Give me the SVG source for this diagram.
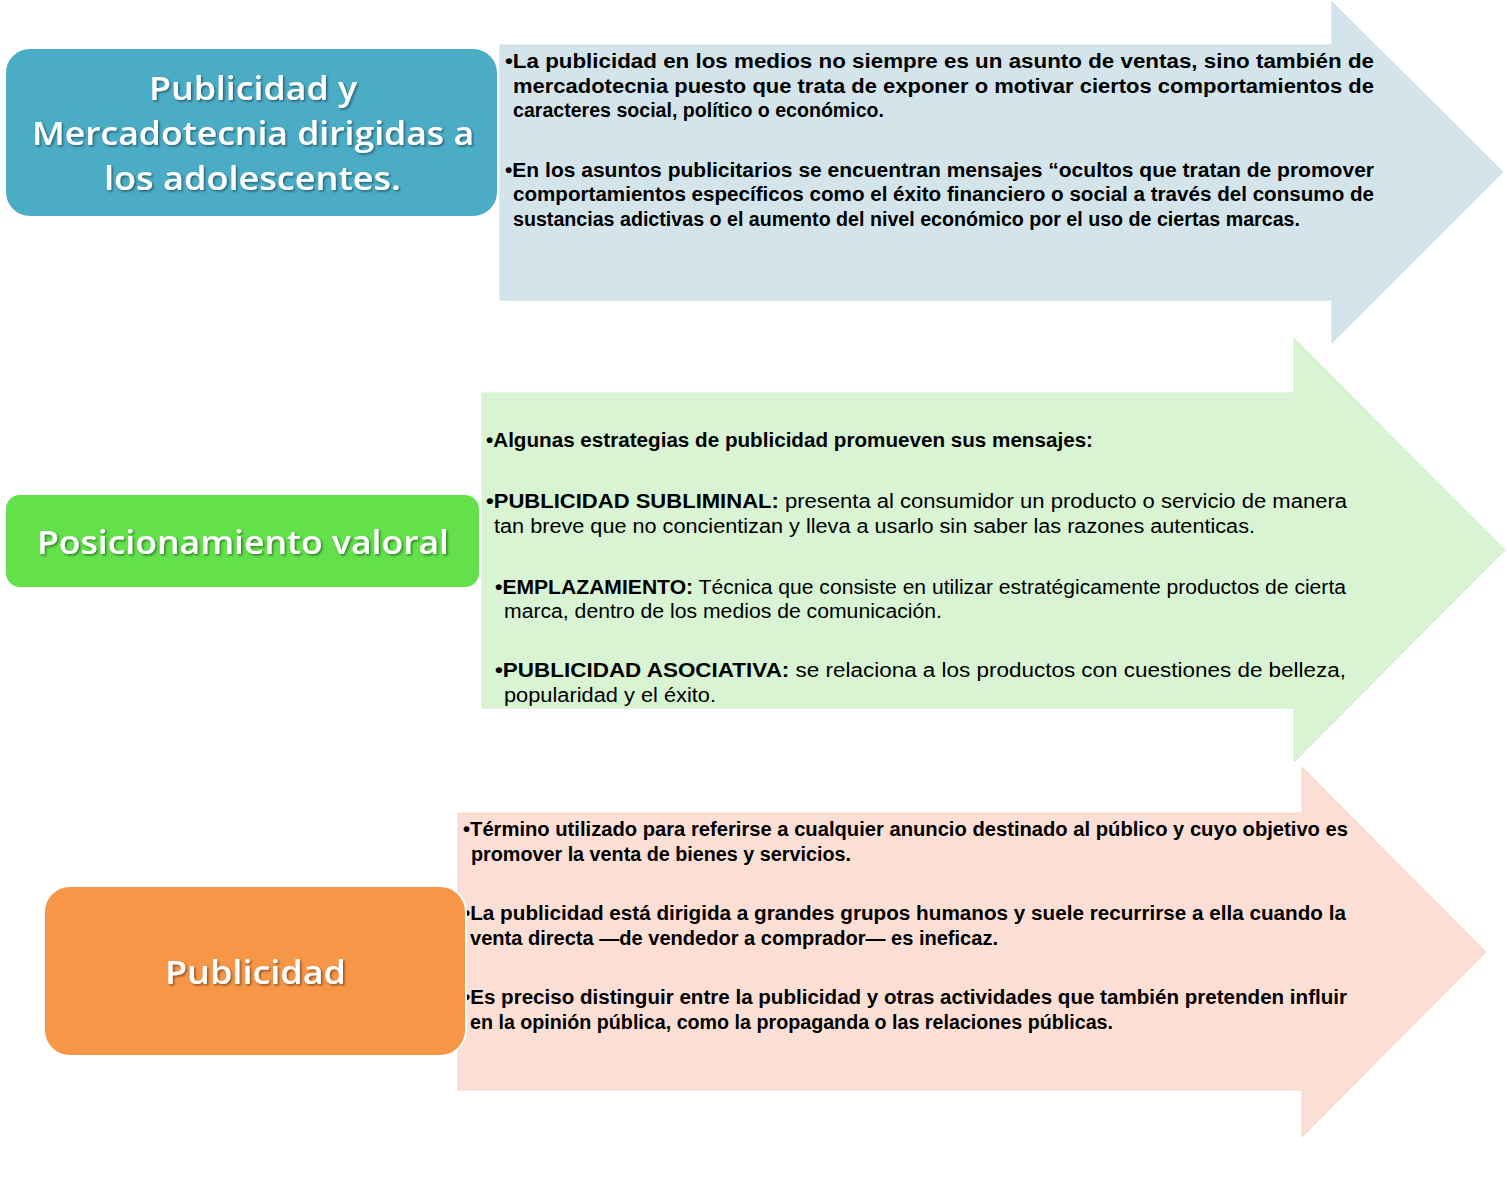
<svg xmlns="http://www.w3.org/2000/svg" width="1507" height="1180" viewBox="0 0 1507 1180">
<defs>
<filter id="tshadow" x="-5%" y="-20%" width="110%" height="140%">
<feDropShadow dx="1.5" dy="1.5" stdDeviation="1" flood-color="#000" flood-opacity="0.45"/>
</filter>
<style>
.title{font-family:"Open Sans","Noto Sans","Liberation Sans",sans-serif;font-size:33px;font-weight:600;fill:#ffffff;filter:url(#tshadow)}
.body{font-family:"Liberation Sans","Noto Sans",sans-serif;font-size:19.5px;font-weight:bold;fill:#000000}
.reg{font-weight:normal}
.box{stroke:#ffffff;stroke-width:2}
</style>
</defs>
<rect width="1507" height="1180" fill="#ffffff"/>
<g id="connectors"/>

<g id="arrow1">
<path d="M500,45 H1332 V2 L1503,172 L1332,343 V300 H500 Z" fill="#D3E5EA" stroke="#C9DDE3" stroke-width="1"/>
<text class="body" x="505" y="68" textLength="869" lengthAdjust="spacingAndGlyphs">•La publicidad en los medios no siempre es un asunto de ventas, sino también de</text>
<text class="body" x="513" y="93" textLength="861" lengthAdjust="spacingAndGlyphs">mercadotecnia puesto que trata de exponer o motivar ciertos comportamientos de</text>
<text class="body" x="513" y="117" textLength="371" lengthAdjust="spacingAndGlyphs">caracteres social, político o económico.</text>
<text class="body" x="505" y="177" textLength="869" lengthAdjust="spacingAndGlyphs">•En los asuntos publicitarios se encuentran mensajes “ocultos que tratan de promover</text>
<text class="body" x="513" y="201" textLength="861" lengthAdjust="spacingAndGlyphs">comportamientos específicos como el éxito financiero o social a través del consumo de</text>
<text class="body" x="513" y="226" textLength="787" lengthAdjust="spacingAndGlyphs">sustancias adictivas o el aumento del nivel económico por el uso de ciertas marcas.</text>
</g>

<g id="arrow2">
<path d="M482,393 H1294 V338 L1505,550 L1294,762 V708 H482 Z" fill="#D8F4D2" stroke="#D0EFC9" stroke-width="1"/>
<text class="body" x="486" y="447" textLength="607" lengthAdjust="spacingAndGlyphs">•Algunas estrategias de publicidad promueven sus mensajes:</text>
<text class="body" x="486" y="508" textLength="861" lengthAdjust="spacingAndGlyphs">•PUBLICIDAD SUBLIMINAL:<tspan class="reg"> presenta al consumidor un producto o servicio de manera</tspan></text>
<text class="body reg" x="494" y="533" textLength="761" lengthAdjust="spacingAndGlyphs">tan breve que no concientizan y lleva a usarlo sin saber las razones autenticas.</text>
<text class="body" x="495" y="594" textLength="851" lengthAdjust="spacingAndGlyphs">•EMPLAZAMIENTO:<tspan class="reg"> Técnica  que consiste en utilizar estratégicamente productos de cierta</tspan></text>
<text class="body reg" x="504" y="618" textLength="438" lengthAdjust="spacingAndGlyphs">marca, dentro de  los medios de comunicación.</text>
<text class="body" x="495" y="677" textLength="851" lengthAdjust="spacingAndGlyphs">•PUBLICIDAD  ASOCIATIVA:<tspan class="reg"> se relaciona a los productos con cuestiones de belleza,</tspan></text>
<text class="body reg" x="504" y="702" textLength="212" lengthAdjust="spacingAndGlyphs">popularidad  y el éxito.</text>
</g>

<g id="arrow3">
<path d="M458,813 H1302 V767 L1486,952 L1302,1137 V1090 H458 Z" fill="#FBDFD4" stroke="#F5D6CA" stroke-width="1"/>
<text class="body" x="463" y="836" textLength="885" lengthAdjust="spacingAndGlyphs">•Término utilizado para referirse a cualquier anuncio destinado al público y cuyo objetivo es</text>
<text class="body" x="471" y="861" textLength="380" lengthAdjust="spacingAndGlyphs">promover la venta de bienes y servicios.</text>
<text class="body" x="463" y="920" textLength="883" lengthAdjust="spacingAndGlyphs">•La publicidad está dirigida a grandes grupos humanos y suele recurrirse a ella cuando la</text>
<text class="body" x="470" y="945" textLength="528" lengthAdjust="spacingAndGlyphs">venta directa —de vendedor a comprador— es ineficaz.</text>
<text class="body" x="463" y="1004" textLength="884" lengthAdjust="spacingAndGlyphs">•Es preciso distinguir entre la publicidad y otras actividades que también pretenden influir</text>
<text class="body" x="470" y="1029" textLength="643" lengthAdjust="spacingAndGlyphs">en la opinión pública, como la propaganda  o las relaciones públicas.</text>
</g>

<g id="node1">
<rect class="box" x="5" y="48" width="493" height="169" rx="25" fill="#4BACC6"/>
<text class="title" x="149" y="100" textLength="208" lengthAdjust="spacingAndGlyphs">Publicidad y</text>
<text class="title" x="32" y="145" textLength="442" lengthAdjust="spacingAndGlyphs">Mercadotecnia dirigidas a</text>
<text class="title" x="104" y="190" textLength="297" lengthAdjust="spacingAndGlyphs">los adolescentes.</text>
</g>

<g id="node2">
<rect class="box" x="5" y="494" width="475" height="94" rx="15" fill="#62E14B"/>
<text class="title" x="37" y="554" textLength="412" lengthAdjust="spacingAndGlyphs">Posicionamiento valoral</text>
</g>

<g id="node3">
<rect class="box" x="44" y="886" width="422" height="170" rx="26" fill="#F79646"/>
<text class="title" x="165" y="984" textLength="181" lengthAdjust="spacingAndGlyphs">Publicidad</text>
</g>
</svg>
